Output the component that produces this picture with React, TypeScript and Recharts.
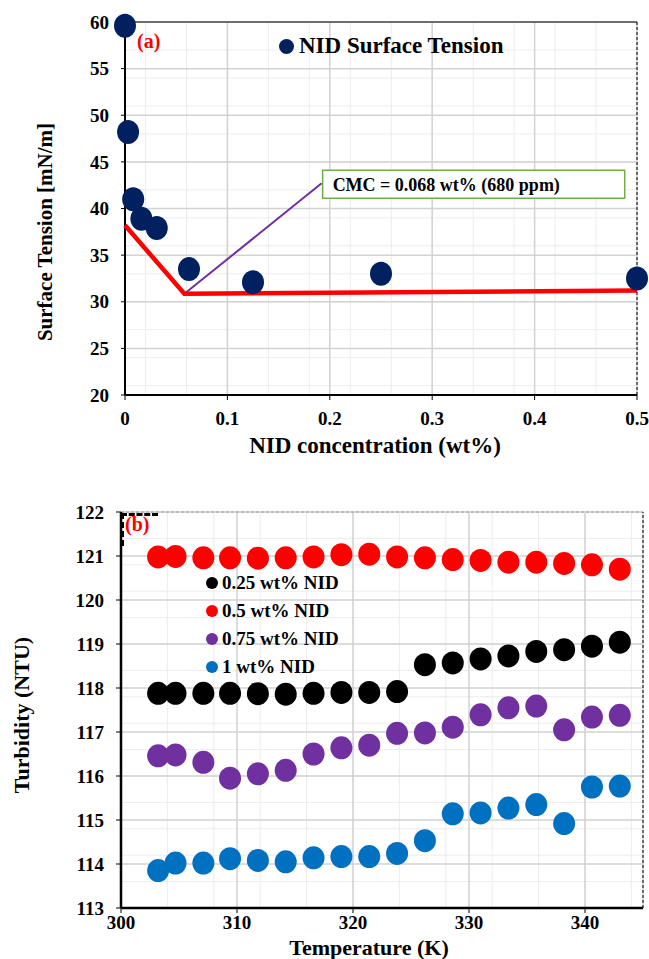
import React from "react";
import {
  ScatterChart, Scatter, XAxis, YAxis, CartesianGrid, ReferenceLine, ReferenceArea, Legend,
} from "recharts";

const FONT = '"Liberation Serif", "Times New Roman", serif';

// ---- (a) surface tension vs concentration
const concWt = [0, 0.003, 0.008, 0.016, 0.031, 0.0625, 0.125, 0.25, 0.5];
const surfaceTension = [59.6, 48.2, 41.0, 38.9, 37.9, 33.5, 32.1, 33.0, 32.5];
const fitX = [0, 0.058, 0.5];
const fitY = [38.2, 30.85, 31.2];
const tangentX = [0.058, 0.192];
const tangentY = [30.85, 42.7];
const concTicks = [0, 0.1, 0.2, 0.3, 0.4, 0.5];
const stTicks = [20, 25, 30, 35, 40, 45, 50, 55, 60];
const cmcBox = { x1: 0.193, x2: 0.488, y1: 41.1, y2: 44.1 };

// ---- (b) turbidity vs temperature
const temps = [303.2, 304.7, 307.1, 309.4, 311.8, 314.2, 316.6, 319.0, 321.4, 323.8, 326.2, 328.6, 331.0, 333.4, 335.8, 338.2, 340.6, 343.0];
const turb025 = [117.88, 117.88, 117.88, 117.88, 117.87, 117.86, 117.88, 117.9, 117.9, 117.92, 118.53, 118.57, 118.66, 118.73, 118.83, 118.87, 118.95, 119.04];
const turb05 = [120.98, 120.99, 120.96, 120.96, 120.95, 120.96, 120.98, 121.03, 121.04, 120.98, 120.96, 120.92, 120.9, 120.86, 120.86, 120.83, 120.8, 120.7];
const turb075 = [116.46, 116.48, 116.31, 115.95, 116.05, 116.13, 116.5, 116.64, 116.7, 116.97, 116.98, 117.11, 117.39, 117.55, 117.59, 117.05, 117.34, 117.38];
const turb1 = [113.85, 114.02, 114.02, 114.12, 114.08, 114.05, 114.14, 114.17, 114.17, 114.24, 114.53, 115.14, 115.16, 115.27, 115.35, 114.92, 115.75, 115.77];
const tempTicks = [300, 310, 320, 330, 340];
const turbTicks = [113, 114, 115, 116, 117, 118, 119, 120, 121, 122];

const zip = (xs: number[], ys: number[]) => xs.map((x, i) => ({ x, y: ys[i] }));
const range = (a: number, b: number, step: number) => {
  const out: number[] = [];
  for (let v = a; v <= b + step / 2; v += step) out.push(Math.round(v * 1000) / 1000);
  return out;
};

const tickStyle = { fontFamily: FONT, fontSize: 19, fontWeight: "bold", fill: "#000" } as const;
const titleStyle: React.CSSProperties = {
  position: "absolute", fontFamily: FONT, fontSize: 22, fontWeight: "bold", color: "#000",
  whiteSpace: "nowrap", textAlign: "center", width: 320, height: 24, lineHeight: "24px",
};

const dot = (rx: number, ry: number, color: string) => (p: any) =>
  <ellipse cx={p.cx} cy={p.cy} rx={rx} ry={ry} fill={color} />;
const noDot = () => <g />;

const legendContent = (fontSize: number, rowH: number, r: number, gap: number) => (props: any) => (
  <div>
    {(props.payload || []).filter((item: any) => item.type !== "none" && item.value).map((item: any) => (
      <div key={item.value} style={{ display: "flex", alignItems: "center", height: rowH }}>
        <svg width={r * 2} height={r * 2}><circle cx={r} cy={r} r={r} fill={item.color} /></svg>
        <span style={{ marginLeft: gap, fontFamily: FONT, fontSize, fontWeight: "bold", color: "#000", whiteSpace: "nowrap" }}>
          {item.value}
        </span>
      </div>
    ))}
  </div>
);

function SurfaceTensionChart() {
  return (
    <ScatterChart width={649} height={470} margin={{ top: 22, right: 12, left: 80, bottom: 45 }}>
      <CartesianGrid horizontalValues={range(20, 60, 1)} verticalValues={range(0, 0.5, 0.02)} stroke="#ececec" />
      <CartesianGrid stroke="#d2d2d2" strokeWidth={1.5} />
      <XAxis type="number" dataKey="x" domain={[0, 0.5]} ticks={concTicks} tick={tickStyle}
        axisLine={{ stroke: "#000", strokeWidth: 2 }} tickLine={{ stroke: "#000" }} tickSize={5} tickMargin={12} height={30} />
      <YAxis type="number" dataKey="y" domain={[20, 60]} ticks={stTicks} tick={tickStyle}
        axisLine={{ stroke: "#000", strokeWidth: 2 }} tickLine={{ stroke: "#000" }} tickSize={4} tickMargin={12} width={45} />
      <ReferenceLine y={60} stroke="#000" strokeWidth={1} />
      <ReferenceLine x={0.5} stroke="#000" strokeWidth={1} strokeDasharray="3 2" />
      <Scatter data={zip(tangentX, tangentY)} line={{ stroke: "#7030a0", strokeWidth: 2 }} shape={noDot}
        legendType="none" isAnimationActive={false} />
      <Scatter data={zip(fitX, fitY)} line={{ stroke: "#ff0000", strokeWidth: 4.5 }} shape={noDot}
        legendType="none" isAnimationActive={false} />
      <ReferenceArea {...cmcBox} fill="#fff" fillOpacity={1} stroke="#70ad47" strokeWidth={1.5}
        label={{ value: "CMC = 0.068 wt% (680 ppm)", position: "insideLeft", offset: 10, fill: "#000",
          fontSize: 18, fontWeight: "bold", fontFamily: FONT }} />
      <Scatter name="NID Surface Tension" data={zip(concWt, surfaceTension)} fill="#002060"
        shape={dot(11, 12, "#002060")} isAnimationActive={false} />
      <Legend layout="vertical" align="center" verticalAlign="middle"
        wrapperStyle={{ left: 279, top: 33, width: "auto" }} content={legendContent(23, 26, 7.5, 5)} />
    </ScatterChart>
  );
}

function TurbidityChart() {
  return (
    <ScatterChart width={649} height={479} margin={{ top: 32, right: 6, left: 76, bottom: 21 }}>
      <CartesianGrid horizontalValues={range(113, 122, 0.2)} verticalValues={range(300, 344, 2)} stroke="#ececec" />
      <CartesianGrid stroke="#d2d2d2" strokeWidth={1.5} />
      <XAxis type="number" dataKey="x" domain={[300, 345]} ticks={tempTicks} tick={tickStyle}
        axisLine={{ stroke: "#000", strokeWidth: 2.5 }} tickLine={{ stroke: "#000" }} tickSize={5} tickMargin={3} height={30} />
      <YAxis type="number" dataKey="y" domain={[113, 122]} ticks={turbTicks} tick={tickStyle}
        axisLine={{ stroke: "#000", strokeWidth: 2.5 }} tickLine={{ stroke: "#000" }} tickSize={5} tickMargin={12} width={45} />
      <ReferenceLine y={122} stroke="#999" strokeWidth={1} strokeDasharray="3 2" />
      <ReferenceLine x={345} stroke="#000" strokeWidth={1} strokeDasharray="3 2" />
      <Scatter name="0.25 wt% NID" data={zip(temps, turb025)} fill="#000000" shape={dot(11, 11.5, "#000000")} isAnimationActive={false} />
      <Scatter name="0.5 wt% NID" data={zip(temps, turb05)} fill="#ff0000" shape={dot(11, 11.5, "#ff0000")} isAnimationActive={false} />
      <Scatter name="0.75 wt% NID" data={zip(temps, turb075)} fill="#7030a0" shape={dot(11, 11.5, "#7030a0")} isAnimationActive={false} />
      <Scatter name="1 wt% NID" data={zip(temps, turb1)} fill="#0070c0" shape={dot(11, 11.5, "#0070c0")} isAnimationActive={false} />
      <Legend layout="vertical" align="center" verticalAlign="middle"
        wrapperStyle={{ left: 206, top: 89, width: "auto" }} content={legendContent(19, 28, 6, 4)} />
    </ScatterChart>
  );
}

export default function App() {
  return (
    <div style={{ position: "absolute", left: 0, top: 0, width: 649, height: 959, background: "#fff", overflow: "hidden" }}>
      <div style={{ position: "absolute", left: 0, top: 0 }}>
        <SurfaceTensionChart />
      </div>
      <div style={{ position: "absolute", left: 0, top: 480 }}>
        <TurbidityChart />
      </div>

      <div style={{ position: "absolute", left: 137, top: 30, fontFamily: FONT, fontSize: 20, fontWeight: "bold", color: "#ff0000" }}>(a)</div>
      <div style={{ position: "absolute", left: 121, top: 513, width: 34, height: 30, borderTop: "3px dashed #000", borderLeft: "3px dashed #000" }} />
      <div style={{ position: "absolute", left: 125, top: 513, fontFamily: FONT, fontSize: 20, fontWeight: "bold", color: "#ff0000" }}>(b)</div>

      <div style={{ ...titleStyle, fontSize: 21, left: 45 - 160, top: 232 - 12, transform: "rotate(-90deg)" }}>Surface Tension [mN/m]</div>
      <div style={{ ...titleStyle, fontSize: 23, left: 375 - 160, top: 446 - 12 }}>NID concentration (wt%)</div>
      <div style={{ ...titleStyle, left: 22 - 160, top: 715 - 12, transform: "rotate(-90deg)" }}>Turbidity (NTU)</div>
      <div style={{ ...titleStyle, fontSize: 22, height: 20, lineHeight: "20px", left: 369 - 160, top: 938 }}>Temperature (K)</div>
    </div>
  );
}
